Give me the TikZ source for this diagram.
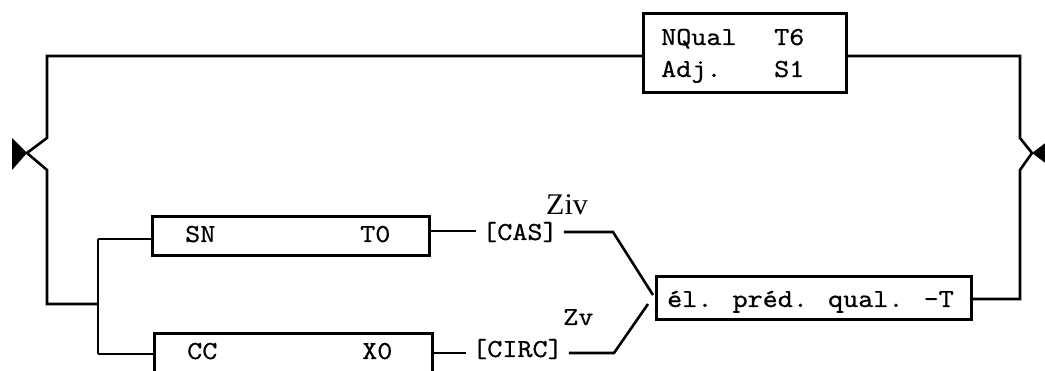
\documentclass[tikz,border=0pt]{standalone}
\usepackage{fontspec}
\newfontfamily\seriffam{Liberation Serif}
\newfontfamily\monofam[FakeStretch=1.105,FakeBold=0.6]{lmmono10-regular.otf}
\newcommand{\monofnt}{\monofam\fontsize{26}{30}\selectfont}
\begin{document}
\begin{tikzpicture}[x=1pt,y=-1pt,
  ln/.style={line width=2.6pt},
  box/.style={draw, line width=2.6pt, inner sep=0pt, anchor=north west},
  lbl/.style={inner sep=0pt, anchor=base west, font=\monofnt},
  tag/.style={inner xsep=6pt, inner ysep=0pt, anchor=base west, font=\monofnt},
  ziv/.style={inner sep=0pt, anchor=base west, font=\seriffam\fontsize{30}{34}\selectfont}]
\useasboundingbox (0,0) rectangle (1045,371);
\clip (0,0) rectangle (1045,371);

% boxes
\node[box, minimum width=203pt, minimum height=79pt] (top) at (642,12) {};
\node[box, minimum width=277pt, minimum height=39pt] (sn) at (151,215) {};
\node[box, minimum width=278pt, minimum height=60pt] (cc) at (153,332) {};
\node[box, minimum width=315pt, minimum height=43pt] (el) at (655,275) {};

% texts
\node[lbl] (tq) at (661,45) {NQual};
\node[lbl] (tt6) at (774,45) {T6};
\node[lbl] (tadj) at (661,77) {Adj.};
\node[lbl] (ts1) at (774,77) {S1};
\node[lbl] (tsn) at (185,242) {SN};
\node[lbl] (tt0) at (360,242) {T0};
\node[lbl] (tcc) at (187,359) {CC};
\node[lbl] (tx0) at (362,359) {X0};
\node[lbl] (tel) at (667,307) {él. préd. qual. -T};
\node[tag] (cas) at (476,240) {[CAS]};
\node[tag] (circ) at (466,357) {[CIRC]};
\node[ziv] (zivl) at (546,215) {Ziv};
\node[lbl] (zvl) at (563,325) {Zv};

% junction coordinates
\coordinate (tl) at (47,56);
\coordinate (lA) at (47,138);
\coordinate (tipL) at (27,153);
\coordinate (lB) at (47,170);
\coordinate (lC) at (47,304);
\coordinate (fork) at (98,304);
\coordinate (forkT) at (98,239);
\coordinate (forkB) at (98,354);
\coordinate (tr) at (1020,56);
\coordinate (rA) at (1020,138);
\coordinate (tipR) at (1032,153);
\coordinate (rB) at (1020,170);
\coordinate (rC) at (1020,299);
\coordinate (snE) at (429,231);
\coordinate (casE) at (613,232);
\coordinate (casD) at (653,295);
\coordinate (circE) at (614,353);
\coordinate (circD) at (648,304);

% left loop
\draw[ln] (top.west |- tl) -- (tl) -- (lA) -- (tipL) -- (lB) -- (lC) -- (fork);
\draw[ln] (forkT) -- (forkB);
\draw[ln] (forkT) -- (sn.west |- forkT);
\draw[ln] (forkB) -- (cc.west |- forkB);
\fill (12,138) -- (tipL) -- (12,170) -- cycle;

% right loop
\draw[ln] (top.east |- tr) -- (tr) -- (rA) -- (tipR) -- (rB) -- (rC) -- (el.east |- rC);
\fill (1056,135) -- (tipR) -- (1056,171) -- cycle;

% CAS / CIRC branches
\draw[ln] (sn.east |- snE) -- (cas.west |- snE);
\draw[ln] (cas.east |- casE) -- (casE) -- (casD);
\draw[ln] (cc.east |- circE) -- (circ.west |- circE);
\draw[ln] (circ.east |- circE) -- (circE) -- (circD);
\end{tikzpicture}
\end{document}
